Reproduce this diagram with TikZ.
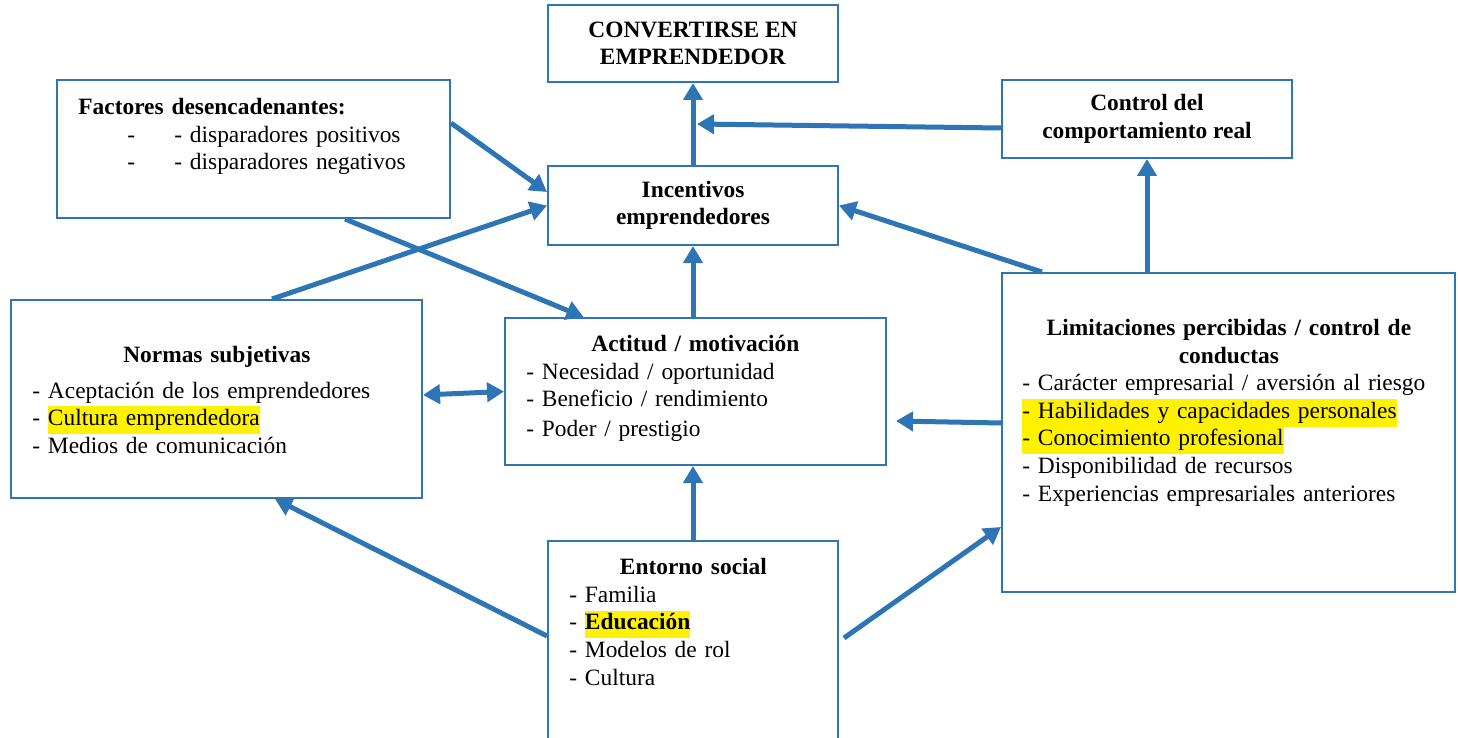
\documentclass[tikz,border=0pt]{standalone}
\usepackage{fontspec}
\setmainfont{Liberation Serif}
\usepackage{xcolor}
\usepackage{tikz}
\usetikzlibrary{arrows.meta, calc}
\definecolor{modelblue}{RGB}{46, 117, 182}
\newcommand{\marca}[1]{{\setlength{\fboxsep}{0pt}\colorbox{yellow}{\strut #1}}}
\setlength{\parindent}{0pt}

\begin{document}
\begin{tikzpicture}[x=0.5pt, y=-0.5pt, >={Triangle[length=8.5pt, width=9.5pt]}, font=\fontsize{11.7}{13.8}\selectfont]
    \tikzstyle{box} = [rectangle, draw=modelblue, line width=1pt, inner sep=0pt, align=center]
    \tikzstyle{txt} = [anchor=north west, inner sep=0pt, align=left]
    \tikzstyle{link} = [->, line width=2.5pt, color=modelblue]

    \useasboundingbox (0,0) rectangle (1458,738);
    \clip (0,0) rectangle (1458,738);

    % boxes
    \node[box, minimum width=145pt, minimum height=38.5pt] (convertirse) at (693,43.5) {\textbf{CONVERTIRSE EN}\\\textbf{EMPRENDEDOR}};
    \node[box, minimum width=196.5pt, minimum height=69pt] (factores) at (253.5,149) {};
    \node[box, minimum width=145pt, minimum height=39pt] (control) at (1147,119) {\textbf{Control del}\\\textbf{comportamiento real}};
    \node[box, minimum width=145pt, minimum height=39.5pt] (incentivos) at (693,205.5) {\textbf{Incentivos}\\\textbf{emprendedores}};
    \node[box, minimum width=205.5pt, minimum height=99pt] (normas) at (216.5,399) {};
    \node[box, minimum width=190.5pt, minimum height=73.5pt] (actitud) at (695.5,391.5) {};
    \node[box, minimum width=226.5pt, minimum height=159.5pt] (limitaciones) at (1228.5,432.5) {};
    \node[box, minimum width=145pt, minimum height=110pt] (entorno) at (693,651) {};

    % box texts
    \node[txt, text width=180pt] (factores-txt) at (78,94.7) {\strut\textbf{Factores desencadenantes:}\\
        \hspace*{24.5pt}\makebox[23.5pt][l]{-}- disparadores positivos\\
        \hspace*{24.5pt}\makebox[23.5pt][l]{-}- disparadores negativos};
    \node[txt, text width=184.5pt] (normas-txt) at (32,342.4) {\hfill\strut\textbf{Normas subjetivas}\hfill\null\\[4.2pt]
        - Aceptación de los emprendedores\\
        - \marca{Cultura emprendedora}\\
        - Medios de comunicación};
    \node[txt, text width=169pt] (actitud-txt) at (526,331.7) {\hfill\strut\textbf{Actitud / motivación}\hfill\null\\
        - Necesidad / oportunidad\\
        - Beneficio / rendimiento\\[1.3pt]
        - Poder / prestigio};
    \node[txt, text width=206.5pt] (limitaciones-txt) at (1022,315.7) {\hfill\strut\textbf{Limitaciones percibidas / control de}\hfill\null\\
        \hfill\textbf{conductas}\hfill\null\\
        - Carácter empresarial / aversión al riesgo\\
        \marca{- Habilidades y capacidades personales}\\
        \marca{- Conocimiento profesional}\\
        - Disponibilidad de recursos\\
        - Experiencias empresariales anteriores};
    \node[txt, text width=124pt] (entorno-txt) at (569,555) {\hfill\strut\textbf{Entorno social}\hfill\null\\
        - Familia\\
        - \marca{\textbf{Educación}}\\
        - Modelos de rol\\
        - Cultura};

    % arrows
    \coordinate (union) at (697,124);
    \draw[link] (incentivos.north) -- (convertirse.south);
    \draw[link] ([yshift=-4.5pt]control.west) -- (union);
    \draw[link] (control.south |- limitaciones.north) -- (control.south);
    \draw[link] ([yshift=13pt]factores.east) -- ([yshift=6.75pt]incentivos.west);
    \draw[link] ([xshift=27.75pt]normas.north) -- (incentivos.west);
    \draw[link] ([xshift=45.75pt]factores.south) -- ([xshift=-56pt]actitud.north);
    \draw[link] ([xshift=20.5pt]limitaciones.north west) -- (incentivos.east);
    \draw[link] (incentivos.south |- actitud.north) -- (incentivos.south);
    \draw[link, <->] ([yshift=2pt]normas.east) -- (actitud.west);
    \draw[link] ([yshift=4.75pt]limitaciones.west) -- ([xshift=4.5pt, yshift=-14.75pt]actitud.east);
    \draw[link] (entorno.north) -- (entorno.north |- actitud.south);
    \draw[link] ([yshift=7.5pt]entorno.west) -- ([xshift=29.25pt]normas.south);
    \draw[link] ([xshift=2.5pt, yshift=6.5pt]entorno.east) -- ([yshift=-47.25pt]limitaciones.west);
\end{tikzpicture}
\end{document}
